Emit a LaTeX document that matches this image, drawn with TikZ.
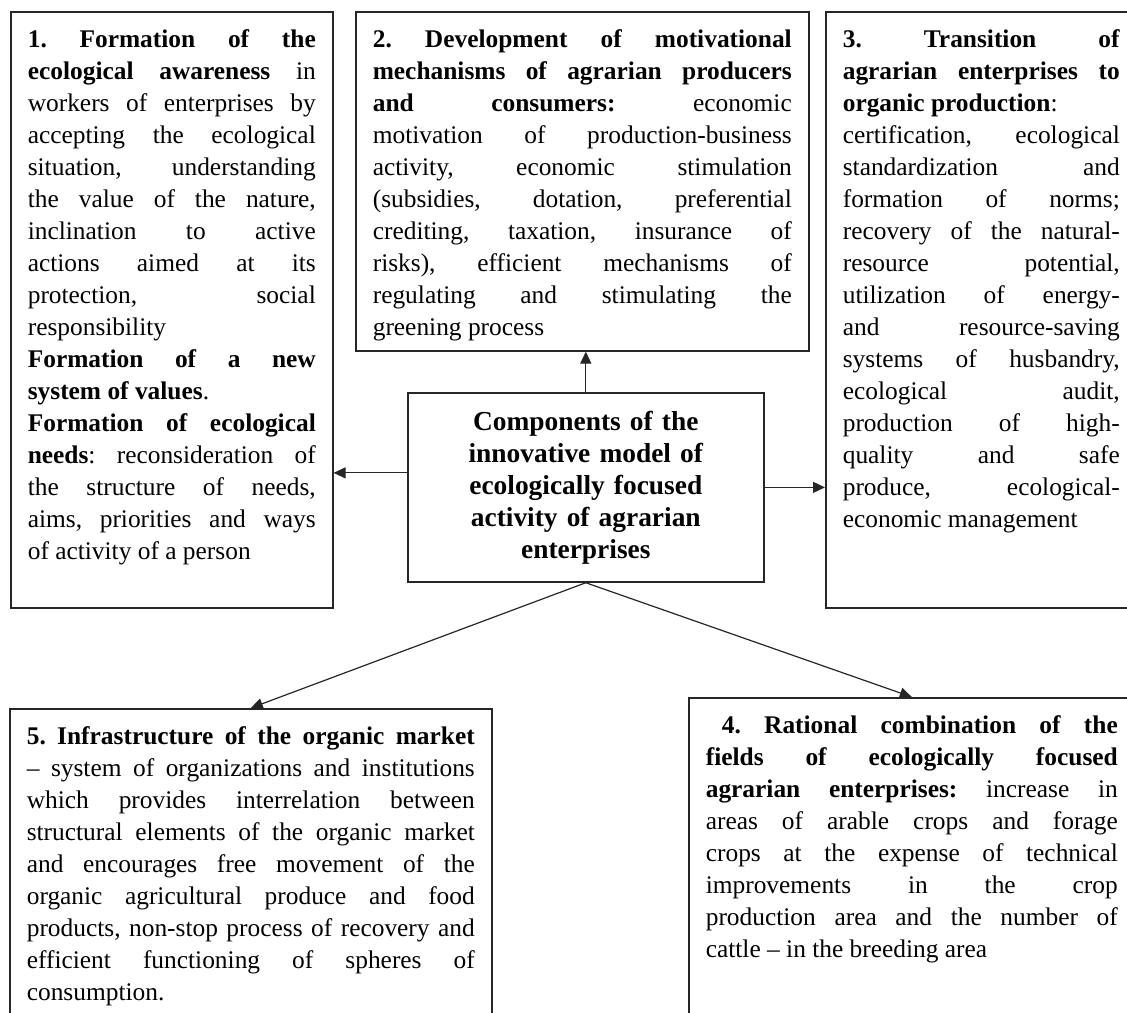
\documentclass[tikz,border=0pt]{standalone}
\usepackage{fontspec}
\setmainfont{Liberation Serif}
\usetikzlibrary{arrows.meta}
\frenchspacing
\newcommand{\boxtext}[3]{\parbox[t][#1][t]{#2}{\hyphenpenalty=10000\relax
    \exhyphenpenalty=10000\relax\tolerance=10000\relax #3}}

\begin{document}
\begin{tikzpicture}[x=0.5pt,y=-0.5pt,
        every node/.style={draw=black!85, line width=0.8pt, anchor=north west,
            inner xsep=8.5pt, inner ysep=9pt, font=\fontsize{12.7}{16}\selectfont},
        link/.style={draw=black!85, line width=0.6pt, -{Triangle[length=6pt,width=5.5pt]}}]
    \clip (0,0) rectangle (1127,1012);
    \node (b1) at (10,11) {\boxtext{280pt}{144pt}{%
        \textbf{1. Formation of the}\linebreak
        \textbf{ecological awareness} in\linebreak
        workers of enterprises by\linebreak
        accepting the ecological\linebreak
        situation, understanding\linebreak
        the value of the nature,\linebreak
        inclination to active\linebreak
        actions aimed at its\linebreak
        protection, social\linebreak
        responsibility\par
        \textbf{Formation of a new}\linebreak
        \textbf{system of values}.\par
        \textbf{Formation of ecological}\linebreak
        \textbf{needs}: reconsideration of\linebreak
        the structure of needs,\linebreak
        aims, priorities and ways\linebreak
        of activity of a person}};
    \node (b2) at (355,11) {\boxtext{151.5pt}{209.5pt}{%
        \textbf{2. Development of motivational}\linebreak
        \textbf{mechanisms of agrarian producers}\linebreak
        \textbf{and consumers:} economic\linebreak
        motivation of production-business\linebreak
        activity, economic stimulation\linebreak
        (subsidies, dotation, preferential\linebreak
        crediting, taxation, insurance of\linebreak
        risks), efficient mechanisms of\linebreak
        regulating and stimulating the\linebreak
        greening process}};
    \node (b3) at (825,11) {\boxtext{280pt}{138.5pt}{%
        \textbf{3. Transition of}\linebreak
        \textbf{agrarian enterprises to}\linebreak
        \textbf{organic production}:\\
        certification, ecological\linebreak
        standardization and\linebreak
        formation of norms;\linebreak
        recovery of the natural-\linebreak
        resource potential,\linebreak
        utilization of energy-\linebreak
        and resource-saving\linebreak
        systems of husbandry,\linebreak
        ecological audit,\linebreak
        production of high-\linebreak
        quality and safe\linebreak
        produce, ecological-\linebreak
        economic management}};
    \node[text width=168pt, align=center, minimum width=178pt, minimum height=92.5pt,
        inner xsep=5pt, font=\fontsize{13.7}{16}\selectfont\bfseries] (comp) at (407,392)
        {Components of the\\innovative model of\\ecologically focused\\activity of agrarian\\enterprises};
    \node (b5) at (9,708) {\boxtext{143pt}{224pt}{%
        \textbf{5. Infrastructure of the organic market}\linebreak
        -- system of organizations and institutions\linebreak
        which provides interrelation between\linebreak
        structural elements of the organic market\linebreak
        and encourages free movement of the\linebreak
        organic agricultural produce and food\linebreak
        products, non-stop process of recovery and\linebreak
        efficient functioning of spheres of\linebreak
        consumption.}};
    \node (b4) at (688,697) {\boxtext{148.5pt}{206pt}{%
        \hspace*{8pt}\textbf{4. Rational combination of the}\linebreak
        \textbf{fields of ecologically focused}\linebreak
        \textbf{agrarian enterprises:} increase in\linebreak
        areas of arable crops and forage\linebreak
        crops at the expense of technical\linebreak
        improvements in the crop\linebreak
        production area and the number of\linebreak
        cattle -- in the breeding area}};
    % links from the centre
    \draw[link] (comp.north) -- (comp.north |- b2.south);
    \draw[link] ([yshift=7.25pt]comp.west) -- ([yshift=7.25pt]comp.west -| b1.east);
    \draw[link] (comp.east) -- (comp.east -| b3.west);
    \draw[link] (comp.south) -- (b5.north);
    \draw[link] (comp.south) -- (b4.north);
\end{tikzpicture}
\end{document}
